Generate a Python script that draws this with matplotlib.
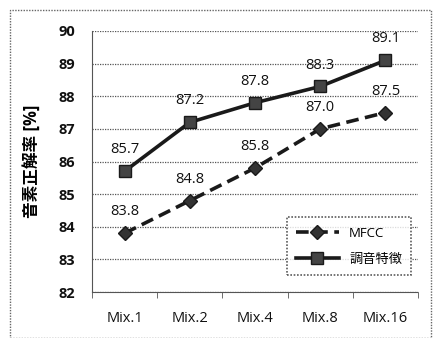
import matplotlib
matplotlib.use("Agg")
import matplotlib.pyplot as plt
from matplotlib.patches import Rectangle

plt.rcParams['font.family'] = ['Open Sans', 'Noto Sans CJK JP', 'DejaVu Sans']

categories = ["Mix.1", "Mix.2", "Mix.4", "Mix.8", "Mix.16"]
mfcc = [83.8, 84.8, 85.8, 87.0, 87.5]
pitch = [85.7, 87.2, 87.8, 88.3, 89.1]
series_names = ["MFCC", "調音特徴"]
ylabel = "音素正解率 [%]"

fig = plt.figure(figsize=(4.35, 3.38), dpi=100)
ax = fig.add_axes([92/435, 1-292/338, (418-92)/435, (292-31)/338])

x = list(range(len(categories)))
ax.plot(x, mfcc, linestyle=(0, (3.5, 1.8)), color='#1a1a1a', lw=2.6,
        marker='D', markersize=7, markerfacecolor='#333333', markeredgecolor='#1a1a1a',
        label=series_names[0])
ax.plot(x, pitch, linestyle='-', color='#1a1a1a', lw=2.6,
        marker='s', markersize=9, markerfacecolor='#444444', markeredgecolor='#1a1a1a',
        label=series_names[1])

for xi, v in zip(x, mfcc):
    ax.annotate(f"{v:.1f}", (xi, v), xytext=(0, 10), textcoords='offset points',
                ha='center', va='bottom', fontsize=10.5, color='#111111')
for xi, v in zip(x, pitch):
    ax.annotate(f"{v:.1f}", (xi, v), xytext=(0, 10), textcoords='offset points',
                ha='center', va='bottom', fontsize=10.5, color='#111111')

ax.set_xlim(-0.5, len(categories) - 0.5)
ax.set_ylim(82, 90)
ax.set_yticks(range(82, 91))
ax.set_xticks(x)
ax.set_xticklabels(categories, fontsize=10.5)
ax.set_xticks([i + 0.5 for i in range(-1, len(categories))], minor=True)
ax.tick_params(axis='x', which='major', length=0, pad=14, labelcolor='#111111')
ax.tick_params(axis='x', which='minor', length=4, direction='out', color='#555555')
ax.tick_params(axis='y', length=0, labelsize=10.5, pad=12, labelcolor='#111111')
for lab in ax.get_yticklabels():
    lab.set_fontweight('bold')
ax.grid(axis='y', linestyle=(0, (1, 1)), color='#555555', lw=0.9)
for s in ['top', 'right']:
    ax.spines[s].set_visible(False)
ax.spines['left'].set_linestyle((0, (1, 1)))
ax.spines['left'].set_color('#555555')
ax.spines['bottom'].set_linestyle((0, (1, 1)))
ax.spines['bottom'].set_color('#555555')

ax.set_ylabel(ylabel, fontsize=12, fontweight='bold', labelpad=12)

leg = ax.legend(loc='lower right', bbox_to_anchor=(1.0, 0.04), fontsize=9.5,
                frameon=True, fancybox=False, edgecolor='#333333',
                handlelength=3.2, borderpad=0.7, labelspacing=1.0)
leg.get_frame().set_linewidth(1.2)
leg.get_frame().set_linestyle((0, (1, 1)))

fig.patches.append(Rectangle((10/435, 0.0), (431-10)/435, 1 - 10/338 - 0.0,
                             transform=fig.transFigure, fill=False,
                             edgecolor='#666666', lw=1, linestyle=(0, (1, 1))))

fig.savefig("out.png", dpi=100)
